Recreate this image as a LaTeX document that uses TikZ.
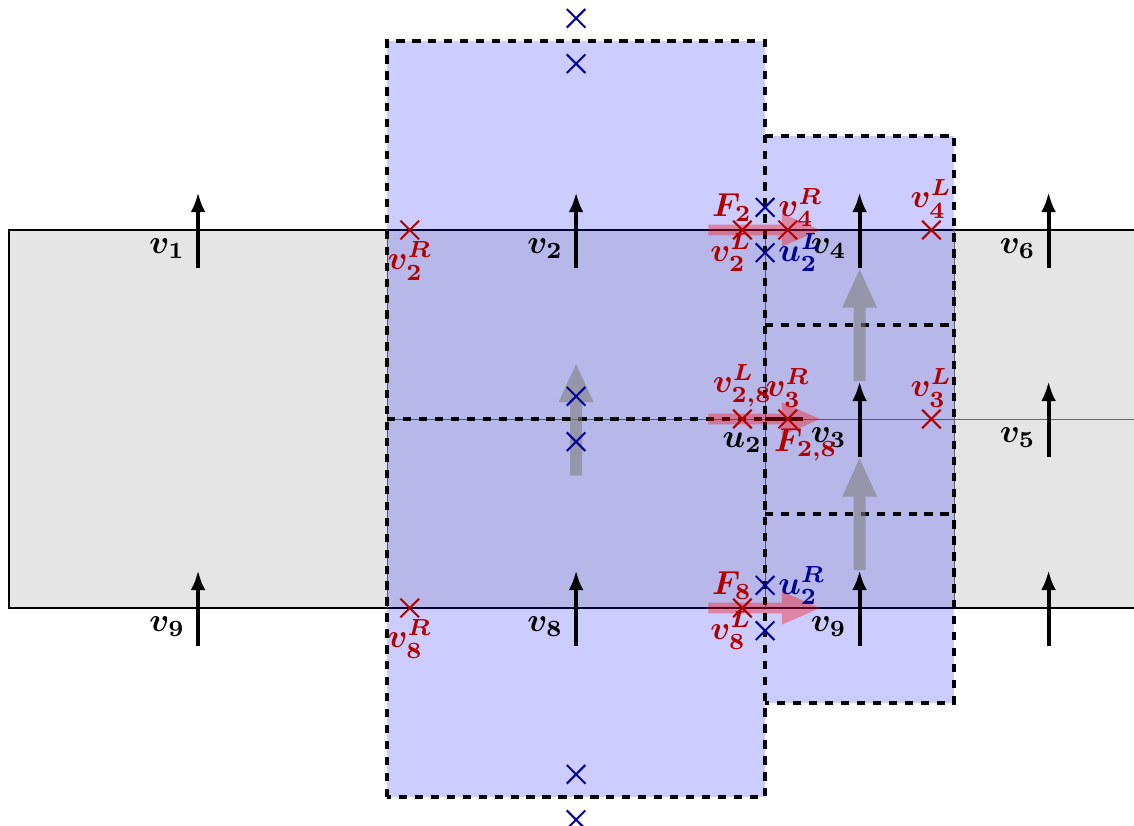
\documentclass[tikz,border=0pt]{standalone}
\usepackage{amsmath,amssymb}
\usetikzlibrary{arrows.meta,shapes.misc}
\colorlet{lred}{red!70!black}
\colorlet{lblue}{blue!60!black}
\newcommand{\bv}[1]{\boldsymbol{#1}}

\begin{document}
\begin{tikzpicture}[x=2cm,y=2cm,>={Latex[length=6pt,width=4.5pt]},
  gridline/.style={draw=black!60,line width=0.3pt},
  cellfill/.style={fill=blue,fill opacity=0.2},
  cellborder/.style={draw=black,very thick,dash pattern=on 2.5pt off 2.3pt},
  vel/.style={->,line width=1.2pt},
  flux/.style={-{Triangle[length=12pt,width=9pt]},line width=3.3pt,red},
  transfer/.style={-{Triangle[length=12pt,width=9.5pt]},line width=3.6pt,gray},
  rx/.style={cross out,draw=lred,line width=0.6pt,minimum size=5pt,inner sep=0pt},
  bx/.style={cross out,draw=lblue,line width=0.6pt,minimum size=5pt,inner sep=0pt},
  every label/.style={inner sep=0.6pt}]
  \useasboundingbox (-2.048,-1.153) rectangle (3.952,3.217);
  \clip (-2.048,-1.153) rectangle (3.952,3.217);
  % background strip
  \draw[fill=gray!20,line width=0.4pt] (-2,0) rectangle (4.5,2);
  \draw[gridline] (0,0) -- (0,2) (2,0) -- (2,2) (3,0) -- (3,2);
  \draw[gridline] (0,1) -- (4.5,1);
  % patches
  \fill[cellfill] (0,1) rectangle (2,3);
  \fill[cellfill] (0,-1) rectangle (2,1);
  \foreach \y in {1.5,0.5,-0.5}
    \fill[cellfill] (2,\y) rectangle (3,\y+1);
  \draw[cellborder] (0,-1) rectangle (2,3) (0,1) -- (2,1);
  \draw[cellborder] (2,2.5) -- (3,2.5) -- (3,-0.5) -- (2,-0.5)
    (2,1.5) -- (3,1.5) (2,0.5) -- (3,0.5);
  % velocities
  \foreach \x/\y/\n in {-1/2/1, 1/2/2, 2.5/2/4, 3.5/2/6, 2.5/1/3, 3.5/1/5, -1/0/9, 1/0/8, 2.5/0/9}
    \draw[vel] (\x,\y-0.2) -- (\x,\y+0.2) node[pos=0.25,left] {$\bv{v_{\n}}$};
  \draw[vel] (3.5,-0.2) -- (3.5,0.2);
  % fluxes
  \draw[line width=1.2pt] (2,1) -- (2.2,1);
  \begin{scope}[transparency group,opacity=0.35]
    \foreach \y in {0,1,2}
      \draw[flux] (1.7,\y) -- (2.3,\y);
  \end{scope}
  \begin{scope}[transparency group,opacity=0.6]
    \draw[transfer] (1,0.7) -- (1,1.3);
    \draw[transfer] (2.5,1.2) -- (2.5,1.8);
    \draw[transfer] (2.5,0.2) -- (2.5,0.8);
  \end{scope}
  % red states
  \node[rx,label={[lred]below:$\bv{v_2^R}$}] (v2R) at (0.12,2) {};
  \node[rx] (v2L) at (1.88,2) {};
  \node[rx] (v4R) at (2.12,2) {};
  \node[rx,label={[lred]above:$\bv{v_4^L}$}] (v4L) at (2.88,2) {};
  \node[rx,label={[lred]above:$\bv{v_{2,8}^L}$},label={[inner sep=1pt]below:$\bv{u_2}$}] (v28L) at (1.88,1) {};
  \node[rx,label={[lred]above:$\bv{v_3^R}$},label={[lred,anchor=north west,inner sep=0pt,xshift=-1.5pt]south west:$\bv{F_{2,8}}$}] (v3R) at (2.12,1) {};
  \node[rx,label={[lred]above:$\bv{v_3^L}$}] (v3L) at (2.88,1) {};
  \node[rx,label={[lred]below:$\bv{v_8^R}$}] (v8R) at (0.12,0) {};
  \node[rx] (v8L) at (1.88,0) {};
  % blue states
  \node[bx,label={[lred,inner sep=1pt]left:$\bv{F_2}$},label={[lred,inner sep=1pt]right:$\bv{v_4^R}$}] (u2a) at (2,2.12) {};
  \node[bx,label={[lred,inner sep=1pt]left:$\bv{v_2^L}$},label={[lblue,inner sep=1pt]right:$\bv{u_2^L}$}] (u2L) at (2,1.88) {};
  \node[bx,label={[lred,inner sep=1pt]left:$\bv{F_8}$},label={[lblue,inner sep=1pt]right:$\bv{u_2^R}$}] (u2R) at (2,0.12) {};
  \node[bx,label={[lred,inner sep=1pt]left:$\bv{v_8^L}$}] (u2b) at (2,-0.12) {};
  \node[bx] (w1) at (1,3.12) {};
  \node[bx] (w2) at (1,2.88) {};
  \node[bx] (w3) at (1,1.12) {};
  \node[bx] (w4) at (1,0.88) {};
  \node[bx] (w5) at (1,-0.88) {};
  \node[bx] (w6) at (1,-1.12) {};
\end{tikzpicture}
\end{document}
